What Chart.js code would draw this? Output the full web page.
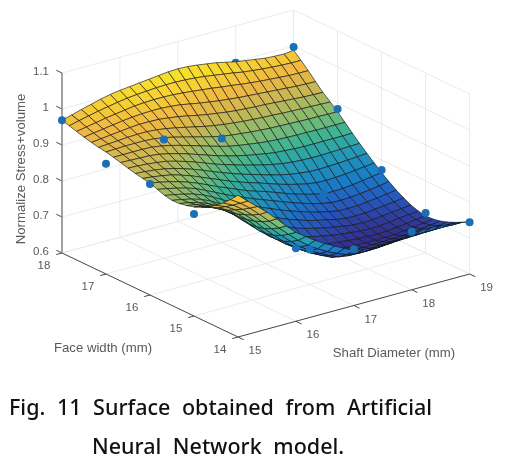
<!DOCTYPE html>
<html>
<head>
<meta charset="utf-8">
<title>Surface</title>
<script src="https://cdn.jsdelivr.net/npm/chart.js@4"></script>
<style>
  html, body { margin: 0; padding: 0; background: #fff; }
  #wrap { position: relative; width: 511px; height: 464px; overflow: hidden; }
  .cap { position: absolute; font-family: "Noto Sans", sans-serif; font-weight: 500; font-size: 21.5px; color: #111; white-space: nowrap; word-spacing: 6px; line-height: 30px; }
</style>
</head>
<body>
<div id="wrap">
  <canvas id="chart" width="511" height="464"></canvas>
  <div class="cap" style="left:9px;top:392px">Fig. 11 Surface obtained from Artificial</div>
  <div class="cap" style="left:92px;top:431px">Neural Network model.</div>
</div>
<script>
// tick labels
const shaftTicks = [15, 16, 17, 18, 19];
const faceTicks = [18, 17, 16, 15, 14];
const zTicks = [0.6, 0.7, 0.8, 0.9, 1, 1.1];

// measured design points, x = shaft, y = face
const dotShaft = [15, 15, 15, 15, 16, 17, 19, 19, 19, 19, 19, 16, 17, 18, 17, 18];
const dotFace = [18, 17, 16, 15, 17, 17, 18, 17, 16, 15, 14, 14, 14, 14, 15, 16];
const dotZ = [0.969, 0.906, 0.908, 0.883, 0.93, 0.889, 0.997, 0.883, 0.772, 0.711, 0.744, 0.803, 0.756, 0.761, 0.697, 0.75];
// these two sit behind the surface
const backShaft = [18, 15];
const backFace = [18, 14];
const backZ = [0.997, 1.0];

// surface mesh
const shaftMesh = [15, 15.167, 15.333, 15.5, 15.667, 15.833, 16, 16.167, 16.333, 16.5, 16.667, 16.833, 17, 17.167, 17.333, 17.5, 17.667, 17.833, 18, 18.167, 18.333, 18.5, 18.667, 18.833, 19];
const faceMesh = [18, 17.833, 17.667, 17.5, 17.333, 17.167, 17, 16.833, 16.667, 16.5, 16.333, 16.167, 16, 15.833, 15.667, 15.5, 15.333, 15.167, 15, 14.833, 14.667, 14.5, 14.333, 14.167, 14];
const surfaceZ = [
  [.969,.976,.984,.991,.998,1.004,1.008,1.011,1.014,1.017,1.020,1.023,1.024,1.023,1.020,1.016,1.012,1.006,1.000,.996,.992,.988,.986,.985,.988],
  [.963,.970,.976,.982,.987,.992,.996,.999,1.001,1.003,1.004,1.004,1.003,1.001,.998,.994,.990,.986,.981,.978,.975,.973,.971,.970,.970],
  [.957,.962,.967,.972,.976,.980,.984,.986,.987,.987,.986,.984,.981,.978,.975,.971,.968,.964,.961,.958,.956,.954,.952,.951,.951],
  [.951,.955,.959,.963,.967,.970,.972,.973,.973,.971,.968,.963,.958,.954,.950,.947,.944,.942,.940,.938,.936,.934,.932,.931,.930],
  [.946,.949,.952,.955,.958,.960,.960,.959,.956,.952,.947,.941,.936,.932,.928,.925,.923,.921,.920,.918,.916,.914,.912,.911,.910],
  [.942,.944,.946,.948,.949,.949,.947,.943,.938,.932,.926,.920,.915,.911,.908,.905,.903,.901,.900,.898,.897,.896,.895,.894,.893],
  [.939,.940,.941,.941,.941,.939,.935,.929,.922,.915,.908,.901,.895,.891,.888,.885,.883,.881,.880,.879,.878,.877,.877,.876,.876],
  [.934,.934,.934,.934,.933,.929,.923,.916,.908,.900,.892,.884,.877,.872,.868,.864,.861,.859,.858,.857,.857,.856,.856,.856,.856],
  [.929,.928,.927,.926,.923,.917,.910,.902,.893,.884,.875,.867,.860,.854,.849,.844,.840,.838,.836,.835,.835,.835,.835,.835,.836],
  [.923,.922,.920,.917,.913,.906,.898,.889,.879,.869,.860,.852,.844,.837,.830,.824,.819,.816,.814,.813,.813,.814,.815,.816,.817],
  [.918,.916,.913,.909,.903,.895,.886,.876,.865,.855,.845,.836,.828,.820,.812,.805,.799,.795,.792,.791,.792,.793,.795,.797,.799],
  [.914,.911,.907,.902,.894,.885,.874,.863,.852,.841,.831,.822,.814,.805,.796,.788,.781,.775,.771,.770,.771,.773,.776,.779,.782],
  [.911,.906,.900,.893,.884,.874,.862,.850,.839,.828,.817,.808,.800,.790,.780,.771,.763,.756,.750,.749,.750,.753,.757,.761,.765],
  [.903,.898,.892,.885,.876,.864,.851,.838,.826,.815,.804,.794,.784,.774,.764,.755,.747,.740,.735,.734,.735,.738,.741,.745,.750],
  [.896,.891,.885,.878,.868,.855,.840,.826,.813,.801,.790,.779,.768,.758,.749,.741,.733,.727,.722,.721,.722,.725,.728,.732,.736],
  [.892,.887,.881,.873,.861,.846,.829,.814,.800,.787,.775,.763,.752,.743,.734,.727,.721,.715,.711,.710,.711,.714,.717,.720,.724],
  [.893,.888,.881,.871,.857,.839,.820,.803,.788,.774,.761,.749,.737,.729,.722,.716,.711,.706,.702,.701,.702,.705,.708,.711,.714],
  [.897,.892,.883,.871,.855,.834,.812,.794,.777,.762,.748,.735,.723,.716,.710,.705,.701,.698,.695,.694,.695,.698,.701,.704,.707],
  [.903,.897,.887,.873,.854,.830,.806,.786,.768,.752,.737,.723,.710,.704,.699,.696,.693,.691,.690,.689,.690,.693,.696,.700,.703],
  [.912,.904,.892,.876,.855,.829,.803,.781,.762,.745,.729,.715,.702,.697,.693,.691,.690,.689,.689,.689,.690,.693,.696,.700,.704],
  [.922,.913,.899,.881,.858,.831,.805,.782,.761,.743,.727,.713,.700,.696,.694,.693,.693,.693,.694,.695,.696,.698,.701,.704,.708],
  [.937,.926,.910,.889,.864,.836,.810,.786,.765,.746,.730,.717,.705,.702,.700,.700,.700,.702,.703,.704,.705,.707,.709,.712,.715],
  [.953,.940,.921,.898,.872,.845,.819,.795,.773,.755,.740,.727,.716,.712,.711,.711,.712,.714,.716,.717,.718,.719,.720,.722,.724],
  [.972,.955,.934,.909,.883,.857,.832,.808,.787,.770,.755,.743,.732,.728,.727,.728,.730,.732,.734,.735,.735,.735,.735,.734,.734],
  [.994,.970,.948,.925,.899,.872,.847,.828,.810,.794,.780,.766,.753,.748,.745,.744,.746,.751,.756,.758,.758,.756,.753,.750,.745]
];

// parula-like colour stops
const parula = [[53,42,135],[38,85,190],[25,125,200],[35,150,185],[55,178,150],[130,188,112],[198,183,85],[240,183,65],[248,212,50],[243,236,35]];
const zMin = 0.685, zMax = 1.035;

// orthographic view, worked out from the axis corners in the picture
function proj(s, f, z) {
    return {
        x: 62 + (s - 15) * 57.9 + (18 - f) * 44,
        y: 253 - (s - 15) * 15.75 + (18 - f) * 21 - (z - 0.6) * 360
    };
}

function colorFor(z) {
    const t = Math.min(0.9999, Math.max(0, (z - zMin) / (zMax - zMin))) * (parula.length - 1);
    const i = Math.floor(t), u = t - i;
    const c = parula[i].map((v, n) => Math.round(v + (parula[i + 1][n] - v) * u));
    return 'rgb(' + c.join(',') + ')';
}

function lineSet(points, color, width) {
    return { data: points, showLine: true, borderColor: color, borderWidth: width, pointRadius: 0, fill: false, tension: 0 };
}

const datasets = [];

// index 0 is painted last
datasets.push({ data: dotShaft.map((s, i) => proj(s, dotFace[i], dotZ[i])), backgroundColor: '#1a6fb5', pointRadius: 4, borderWidth: 0 });

// surface cells, nearest first
for (let r = faceMesh.length - 2; r >= 0; r--) {
    for (let k = 0; k < shaftMesh.length - 1; k++) {
        const a = proj(shaftMesh[k], faceMesh[r], surfaceZ[r][k]);
        const b = proj(shaftMesh[k + 1], faceMesh[r], surfaceZ[r][k + 1]);
        const c = proj(shaftMesh[k + 1], faceMesh[r + 1], surfaceZ[r + 1][k + 1]);
        const d = proj(shaftMesh[k], faceMesh[r + 1], surfaceZ[r + 1][k]);
        const mean = (surfaceZ[r][k] + surfaceZ[r][k + 1] + surfaceZ[r + 1][k + 1] + surfaceZ[r + 1][k]) / 4;
        datasets.push({
            data: [a, b, c, d, a], showLine: true, fill: 'shape', tension: 0, pointRadius: 0,
            backgroundColor: colorFor(mean), borderColor: 'rgba(20,20,20,0.8)', borderWidth: 0.8
        });
    }
}

datasets.push({ data: backShaft.map((s, i) => proj(s, backFace[i], backZ[i])), backgroundColor: '#1a6fb5', pointRadius: 4, borderWidth: 0 });

// axes and ticks
const axisDark = '#4a4a4a';
datasets.push(lineSet([proj(15, 18, 0.6), proj(15, 18, 1.1)], '#8c8c8c', 1.6));
datasets.push(lineSet([proj(15, 18, 0.6), proj(15, 14, 0.6)], axisDark, 1));
datasets.push(lineSet([proj(15, 14, 0.6), proj(19, 14, 0.6)], axisDark, 1));
zTicks.forEach(z => datasets.push(lineSet([proj(15, 18, z), proj(15, 18.13, z)], axisDark, 1)));
faceTicks.forEach(f => datasets.push(lineSet([proj(15, f, 0.6), proj(14.9, f, 0.6)], axisDark, 1)));
shaftTicks.forEach(s => datasets.push(lineSet([proj(s, 14, 0.6), proj(s, 13.87, 0.6)], axisDark, 1)));

// grid on the floor and the two back walls
const gridColor = '#ebebeb';
shaftTicks.forEach(s => {
    datasets.push(lineSet([proj(s, 14, 0.6), proj(s, 18, 0.6)], gridColor, 1));
    datasets.push(lineSet([proj(s, 18, 0.6), proj(s, 18, 1.1)], gridColor, 1));
});
faceTicks.forEach(f => {
    datasets.push(lineSet([proj(15, f, 0.6), proj(19, f, 0.6)], gridColor, 1));
    datasets.push(lineSet([proj(19, f, 0.6), proj(19, f, 1.1)], gridColor, 1));
});
zTicks.forEach(z => {
    datasets.push(lineSet([proj(15, 18, z), proj(19, 18, z)], gridColor, 1));
    datasets.push(lineSet([proj(19, 18, z), proj(19, 14, z)], gridColor, 1));
});

// tick labels and axis titles
const labelPlugin = {
    id: 'labels3d',
    afterDraw(chart) {
        const ctx = chart.ctx, sx = chart.scales.x, sy = chart.scales.y;
        const put = (text, p, dx, dy, align) => {
            ctx.textAlign = align || 'center';
            ctx.fillText(text, sx.getPixelForValue(p.x) + dx, sy.getPixelForValue(p.y) + dy);
        };
        ctx.save();
        ctx.fillStyle = '#5a5a5a';
        ctx.textBaseline = 'middle';
        ctx.font = '11.5px "Liberation Sans", Arial, sans-serif';
        zTicks.forEach(z => put(String(z), proj(15, 18, z), -13, -1, 'right'));
        faceTicks.forEach(f => put(String(f), proj(15, f, 0.6), -18, 13));
        shaftTicks.forEach(s => put(String(s), proj(s, 14, 0.6), 17, 14));
        ctx.font = '13.2px "Liberation Sans", Arial, sans-serif';
        ctx.textAlign = 'center';
        ctx.fillText('Face width (mm)', 103, 348);
        ctx.fillText('Shaft Diameter (mm)', 394, 353);
        ctx.translate(21, 169);
        ctx.rotate(-Math.PI / 2);
        ctx.fillText('Normalize Stress+volume', 0, 0);
        ctx.restore();
    }
};

new Chart(document.getElementById('chart'), {
    type: 'scatter',
    data: { datasets: datasets },
    plugins: [labelPlugin],
    options: {
        responsive: false,
        animation: false,
        events: [],
        layout: { padding: 0, autoPadding: false },
        plugins: { legend: { display: false }, tooltip: { enabled: false }, title: { display: false } },
        scales: {
            x: { type: 'linear', min: 0, max: 511, display: false },
            y: { type: 'linear', min: 0, max: 464, reverse: true, display: false }
        }
    }
});
</script>
</body>
</html>
